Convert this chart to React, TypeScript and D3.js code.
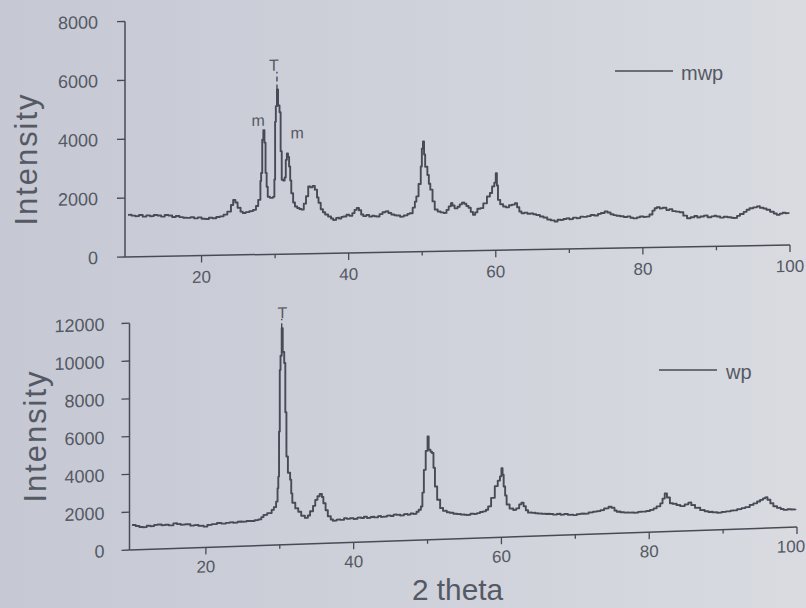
import React from "react";
import * as d3 from "d3";

// 2 theta / intensity pairs
const mwpData: [number, number][] = [
  [10.0, 1430], [10.5, 1400], [11.0, 1380], [11.5, 1420], [12.0, 1360], [12.5, 1400],
  [13.0, 1370], [13.5, 1410], [14.0, 1390], [14.5, 1350], [15.0, 1400], [15.5, 1380],
  [16.0, 1330], [16.5, 1360], [17.0, 1320], [17.5, 1300], [18.0, 1290], [18.5, 1310],
  [19.0, 1270], [19.5, 1300], [20.0, 1250], [20.5, 1240], [21.0, 1280], [21.5, 1260],
  [22.0, 1300], [22.5, 1320], [23.0, 1380], [23.5, 1480], [24.0, 1700], [24.3, 1870],
  [24.6, 1780], [24.9, 1600], [25.3, 1470], [25.6, 1420], [26.0, 1450], [26.5, 1480],
  [27.0, 1520], [27.4, 1650], [27.7, 1860], [28.0, 2500], [28.1, 2770], [28.25, 3900],
  [28.4, 4220], [28.55, 3800], [28.7, 2770], [28.85, 2300], [29.0, 1960], [29.3, 1920],
  [29.7, 1950], [29.9, 2540], [30.0, 4500], [30.1, 5030], [30.25, 5600], [30.4, 5050],
  [30.6, 4820], [30.75, 3500], [30.9, 2530], [31.1, 2500], [31.3, 2600], [31.45, 3200],
  [31.6, 3420], [31.75, 3300], [31.9, 2970], [32.05, 2500], [32.2, 2060], [32.45, 1750],
  [32.7, 1610], [33.0, 1560], [33.3, 1520], [33.6, 1500], [33.9, 1700], [34.2, 1950],
  [34.5, 2280], [34.8, 2250], [35.1, 2300], [35.4, 2170], [35.7, 1900], [35.9, 1720],
  [36.2, 1500], [36.5, 1400], [36.8, 1320], [37.2, 1250], [37.6, 1180], [37.9, 1130],
  [38.3, 1200], [38.7, 1170], [39.0, 1230], [39.3, 1240], [39.7, 1300], [40.1, 1260],
  [40.5, 1350], [40.8, 1460], [41.1, 1520], [41.4, 1440], [41.7, 1300], [42.0, 1240],
  [42.4, 1280], [42.8, 1220], [43.2, 1250], [43.5, 1230], [43.8, 1220], [44.2, 1300],
  [44.6, 1360], [45.0, 1390], [45.4, 1330], [45.8, 1280], [46.2, 1250], [46.5, 1240],
  [47.0, 1200], [47.5, 1240], [48.0, 1290], [48.3, 1310], [48.7, 1500], [49.0, 1700],
  [49.2, 1880], [49.5, 2300], [49.8, 2890], [49.95, 3500], [50.1, 3740], [50.25, 3300],
  [50.4, 2880], [50.7, 2600], [50.9, 2300], [51.1, 2100], [51.4, 1700], [51.7, 1420],
  [52.1, 1350], [52.5, 1320], [52.9, 1300], [53.3, 1400], [53.6, 1520], [53.9, 1630],
  [54.1, 1550], [54.4, 1450], [54.8, 1500], [55.1, 1580], [55.4, 1640], [55.7, 1600],
  [56.0, 1520], [56.3, 1460], [56.6, 1320], [56.9, 1220], [57.2, 1300], [57.5, 1420],
  [57.9, 1440], [58.3, 1600], [58.8, 1830], [59.2, 1950], [59.5, 2170], [59.8, 2300],
  [60.0, 2620], [60.15, 2200], [60.3, 1710], [60.6, 1560], [61.0, 1480], [61.4, 1450],
  [61.8, 1520], [62.2, 1540], [62.6, 1590], [62.9, 1450], [63.2, 1300], [63.5, 1240],
  [63.9, 1260], [64.3, 1220], [64.7, 1230], [65.1, 1200], [65.5, 1170], [66.0, 1120],
  [66.5, 1080], [67.0, 1010], [67.5, 980], [68.0, 940], [68.4, 1000], [68.8, 990],
  [69.2, 1020], [69.6, 1040], [70.0, 1010], [70.5, 1060], [71.0, 1040], [71.5, 1090],
  [71.9, 1080], [72.4, 1100], [72.9, 1140], [73.4, 1120], [73.9, 1170], [74.3, 1200],
  [74.8, 1250], [75.2, 1210], [75.6, 1150], [76.0, 1120], [76.4, 1100], [76.9, 1080],
  [77.4, 1050], [77.9, 1070], [78.3, 1020], [78.7, 1000], [79.2, 1030], [79.6, 1060],
  [80.1, 1040], [80.5, 1050], [80.9, 1120], [81.3, 1250], [81.6, 1330], [81.9, 1360],
  [82.3, 1320], [82.7, 1340], [83.2, 1260], [83.6, 1290], [84.0, 1220], [84.5, 1200],
  [85.0, 1180], [85.5, 1060], [86.0, 970], [86.5, 1000], [87.0, 1040], [87.4, 990],
  [87.8, 1020], [88.3, 1050], [88.8, 990], [89.3, 1020], [89.7, 1040], [90.0, 1010],
  [90.5, 970], [91.0, 1000], [91.5, 980], [92.0, 960], [92.3, 950], [92.8, 1020],
  [93.2, 1080], [93.7, 1150], [94.1, 1220], [94.5, 1270], [95.0, 1300], [95.5, 1330],
  [95.9, 1280], [96.4, 1250], [96.8, 1210], [97.3, 1140], [97.8, 1080], [98.2, 1030],
  [98.6, 1070], [99.0, 1100], [99.4, 1080], [99.8, 1110],
];

const wpData: [number, number][] = [
  [10.0, 1320], [10.5, 1260], [11.0, 1200], [11.5, 1180], [12.0, 1250], [12.5, 1220],
  [13.0, 1280], [13.5, 1300], [14.0, 1250], [14.5, 1270], [15.0, 1230], [15.6, 1330],
  [16.1, 1280], [16.6, 1240], [17.2, 1260], [17.9, 1180], [18.4, 1200], [19.0, 1150],
  [19.7, 1100], [20.2, 1180], [20.8, 1220], [21.5, 1270], [22.1, 1230], [22.7, 1260],
  [23.2, 1280], [23.7, 1250], [24.3, 1300], [24.9, 1290], [25.5, 1320], [26.1, 1310],
  [26.6, 1350], [27.1, 1380], [27.5, 1500], [27.8, 1610], [28.3, 1700], [28.9, 1860],
  [29.2, 2000], [29.5, 2290], [29.7, 3000], [29.8, 3610], [29.9, 6000], [30.0, 9250],
  [30.1, 10000], [30.26, 11460], [30.4, 10200], [30.6, 9610], [30.75, 7000], [30.9, 4660],
  [31.1, 3800], [31.4, 3430], [31.55, 2700], [31.7, 2200], [32.1, 1900], [32.5, 1720],
  [32.9, 1500], [33.4, 1380], [33.8, 1500], [34.1, 1720], [34.5, 2000], [34.8, 2310],
  [35.1, 2500], [35.4, 2620], [35.7, 2450], [35.9, 2120], [36.2, 1750], [36.5, 1420],
  [36.9, 1250], [37.2, 1180], [37.7, 1230], [38.2, 1210], [38.7, 1290], [39.1, 1250],
  [39.5, 1280], [40.0, 1230], [40.5, 1300], [41.0, 1270], [41.4, 1330], [41.8, 1260],
  [42.3, 1310], [42.8, 1280], [43.3, 1340], [43.7, 1290], [44.0, 1300], [44.5, 1350],
  [45.0, 1320], [45.4, 1390], [45.8, 1370], [46.3, 1330], [46.8, 1400], [47.3, 1360],
  [47.7, 1420], [48.1, 1390], [48.5, 1500], [48.8, 1600], [49.1, 1770], [49.3, 2500],
  [49.5, 3700], [49.75, 4700], [50.0, 5470], [50.15, 4760], [50.4, 4650], [50.6, 4580],
  [50.8, 3800], [51.0, 2800], [51.3, 2100], [51.7, 1650], [52.1, 1500], [52.6, 1420],
  [53.0, 1390], [53.5, 1330], [54.0, 1300], [54.5, 1270], [55.0, 1250], [55.3, 1240],
  [55.8, 1300], [56.3, 1280], [56.7, 1320], [57.1, 1370], [57.5, 1400], [57.9, 1480],
  [58.2, 1650], [58.6, 2100], [59.1, 2710], [59.5, 3000], [59.8, 3220], [60.0, 3650],
  [60.15, 3300], [60.3, 2680], [60.5, 2200], [60.7, 1720], [61.1, 1500], [61.6, 1420],
  [62.0, 1500], [62.4, 1700], [62.7, 1790], [63.0, 1600], [63.3, 1380], [63.6, 1250],
  [64.1, 1230], [64.6, 1200], [65.0, 1180], [65.5, 1160], [66.0, 1150], [66.5, 1140],
  [67.0, 1100], [67.5, 1130], [68.0, 1080], [68.5, 1110], [69.0, 1060], [69.7, 1040],
  [70.2, 1080], [70.7, 1100], [71.2, 1090], [71.8, 1150], [72.4, 1180], [72.9, 1200],
  [73.4, 1250], [73.9, 1330], [74.5, 1420], [74.9, 1350], [75.3, 1200], [75.6, 1140],
  [76.1, 1100], [76.6, 1080], [77.2, 1070], [77.9, 1050], [78.5, 1090], [79.0, 1100],
  [79.6, 1120], [80.1, 1170], [80.6, 1250], [81.0, 1350], [81.5, 1500], [81.8, 1750],
  [82.1, 2020], [82.4, 1800], [82.8, 1490], [83.2, 1450], [83.7, 1380], [84.2, 1320],
  [84.8, 1400], [85.3, 1490], [85.7, 1350], [86.2, 1200], [86.9, 1070], [87.5, 1000],
  [88.0, 960], [88.6, 930], [89.2, 900], [89.8, 930], [90.4, 960], [91.0, 990],
  [91.4, 1000], [91.9, 1050], [92.5, 1100], [93.0, 1150], [93.6, 1250], [94.1, 1330],
  [94.6, 1420], [95.0, 1500], [95.4, 1580], [95.7, 1630], [96.0, 1500], [96.4, 1300],
  [96.8, 1140], [97.3, 1050], [97.8, 980], [98.2, 930], [98.7, 960], [99.2, 940],
  [99.8, 960],
];

const topYTicks = [0, 2000, 4000, 6000, 8000];
const bottomYTicks = [0, 2000, 4000, 6000, 8000, 10000, 12000];
const xTicks = [20, 30, 40, 50, 60, 70, 80, 90, 100];
const xTickLabels = [20, 40, 60, 80, 100];

const mwpMarks = [
  { label: "m", theta: 27.7, value: 4570 },
  { label: "T", theta: 29.85, value: 6430 },
  { label: "m", theta: 33.0, value: 4120 },
];
const mwpMarkers = [{ theta: 30.25, from: 5600, to: 6200 }];
const wpMarks = [{ label: "T", theta: 30.37, value: 12290 }];
const wpMarkers = [{ theta: 30.26, from: 11460, to: 11950 }];

const INK = "#474b56";
const TEXT = "#555964";
const FONT = "'Liberation Sans', Arial, sans-serif";

type Mark = { label: string; theta: number; value: number };
type Marker = { theta: number; from: number; to: number };

function Panel(props: {
  data: [number, number][];
  yMax: number;
  yPx: number;
  yTicks: number[];
  ox: number;
  oy: number;
  xLen: number;
  xStart: number;
  tilt: number;
  labelOffset: number;
  yLabelX: number;
  lastLabelDx: number;
  marks: Mark[];
  markers: Marker[];
}) {
  const { data, yMax, yPx, yTicks, ox, oy, xLen, xStart, tilt, labelOffset, yLabelX, lastLabelDx, marks, markers } =
    props;
  const x = d3.scaleLinear().domain([10, 100]).range([xStart, xLen]);
  const y = d3.scaleLinear().domain([0, yMax]).range([0, -yPx]);
  const line = d3
    .line<[number, number]>()
    .x((d) => x(d[0]))
    .y((d) => y(d[1]))
    .curve(d3.curveStepAfter);

  return (
    <g transform={`translate(${ox},${oy}) skewY(${-tilt})`} fontFamily={FONT}>
      {/* y axis */}
      <line x1={0} x2={0} y1={y(0)} y2={y(yMax)} stroke={INK} strokeWidth={1.5} />
      {yTicks.map((t) => (
        <g key={t}>
          <line x1={-8} x2={0} y1={y(t)} y2={y(t)} stroke={INK} strokeWidth={1.3} />
          <text x={yLabelX} y={y(t)} dy="0.36em" textAnchor="end" fontSize={18} fill={TEXT}>
            {t}
          </text>
        </g>
      ))}
      {/* x axis */}
      <line x1={0} x2={x(100)} y1={0} y2={0} stroke={INK} strokeWidth={1.5} />
      {xTicks.map((t) => (
        <line
          key={t}
          x1={x(t)}
          x2={x(t)}
          y1={0}
          y2={xTickLabels.includes(t) ? 7 : 4}
          stroke={INK}
          strokeWidth={1.3}
        />
      ))}
      {xTickLabels.map((t) => (
        <text
          key={t}
          x={x(t) + (t === 100 ? lastLabelDx : 0)}
          y={labelOffset}
          dy="0.36em"
          textAnchor="middle"
          fontSize={17}
          fill={TEXT}
        >
          {t}
        </text>
      ))}
      {/* pattern */}
      <path d={line(data) ?? ""} fill="none" stroke={INK} strokeWidth={1.9} strokeLinejoin="round" />
      {markers.map((m, i) => (
        <line
          key={i}
          x1={x(m.theta)}
          x2={x(m.theta)}
          y1={y(m.from)}
          y2={y(m.to)}
          stroke={INK}
          strokeWidth={1.4}
          strokeDasharray="5,3"
        />
      ))}
      {marks.map((m, i) => (
        <text key={i} x={x(m.theta)} y={y(m.value)} dy="0.36em" textAnchor="middle" fontSize={16} fill={TEXT}>
          {m.label}
        </text>
      ))}
    </g>
  );
}

export default function App() {
  return (
    <svg
      width={806}
      height={608}
      style={{ position: "absolute", left: 0, top: 0 }}
      fontFamily={FONT}
    >
      <defs>
        <linearGradient id="paper" x1="0" x2="1" y1="0" y2="0">
          <stop offset="0" stopColor="#c6c9d4" />
          <stop offset="0.6" stopColor="#d0d3db" />
          <stop offset="1" stopColor="#d9dbe1" />
        </linearGradient>
      </defs>
      <rect width={806} height={608} fill="url(#paper)" />

      <Panel
        data={mwpData}
        yMax={8000}
        yPx={235.5}
        yTicks={topYTicks}
        ox={125}
        oy={257}
        xStart={3}
        xLen={665}
        tilt={1.04}
        labelOffset={21}
        yLabelX={-27}
        lastLabelDx={0}
        marks={mwpMarks}
        markers={mwpMarkers}
      />
      <Panel
        data={wpData}
        yMax={12000}
        yPx={226.8}
        yTicks={bottomYTicks}
        ox={129.5}
        oy={550}
        xStart={2.5}
        xLen={667.5}
        tilt={1.97}
        labelOffset={19}
        yLabelX={-25}
        lastLabelDx={-6}
        marks={wpMarks}
        markers={wpMarkers}
      />

      {/* legends */}
      <line x1={615} x2={673} y1={71} y2={71} stroke={INK} strokeWidth={1.5} />
      <text x={681} y={80} fontSize={20} fill={TEXT}>mwp</text>
      <line x1={659} x2={717} y1={370} y2={370} stroke={INK} strokeWidth={1.5} />
      <text x={726} y={379} fontSize={20} fill={TEXT}>wp</text>

      {/* axis titles */}
      <text
        transform="translate(37,160) rotate(-90)"
        textAnchor="middle"
        fontSize={31}
        textLength={131}
        lengthAdjust="spacing"
        fill={TEXT}
      >
        Intensity
      </text>
      <text
        transform="translate(46,437) rotate(-90)"
        textAnchor="middle"
        fontSize={31}
        textLength={131}
        lengthAdjust="spacing"
        fill={TEXT}
      >
        Intensity
      </text>
      <text x={412} y={600} fontSize={30} textLength={91} lengthAdjust="spacingAndGlyphs" fill={TEXT}>
        2 theta
      </text>
    </svg>
  );
}
